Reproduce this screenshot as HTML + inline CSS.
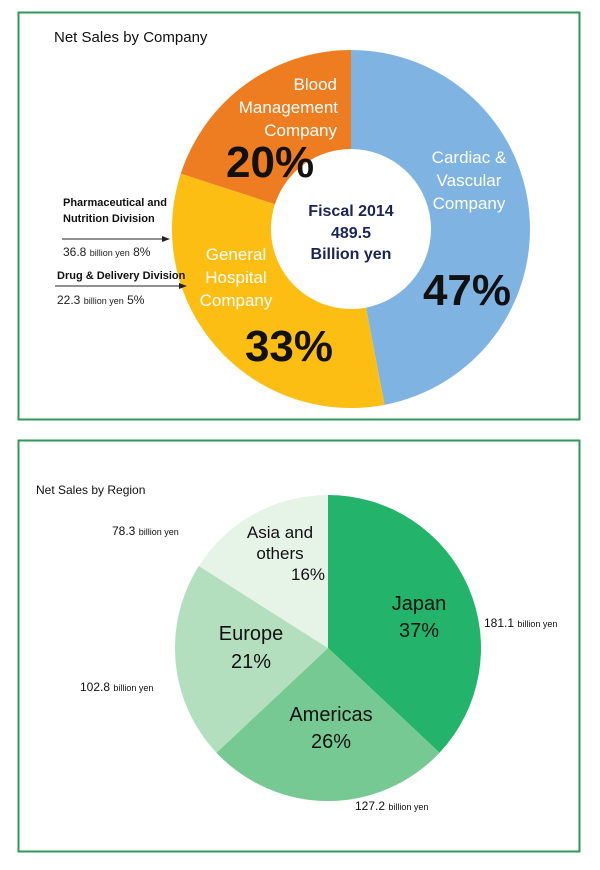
<!DOCTYPE html>
<html><head><meta charset="utf-8"><style>
body{margin:0;background:#fff;width:600px;height:870px;overflow:hidden;font-family:"Liberation Sans",sans-serif}
svg{display:block}
</style></head><body>
<svg width="600" height="870">
<rect x="18.5" y="12.5" width="561" height="407" fill="#fff" stroke="#2e9a56" stroke-width="2"/>
<rect x="18.5" y="440.5" width="561" height="411" fill="#fff" stroke="#2e9a56" stroke-width="2"/>
<text x="54" y="42" font-size="15" fill="#111">Net Sales by Company</text>
<text x="36" y="494" font-size="12" fill="#111">Net Sales by Region</text>
<g id="donut"></g>
<g id="pie"></g>
<text text-anchor="middle" font-weight="bold" fill="#1a2456" font-size="16"><tspan x="351" y="216">Fiscal 2014</tspan><tspan x="351" y="238">489.5</tspan><tspan x="351" y="259">Billion yen</tspan></text>
<g fill="#fff" font-size="17" text-anchor="end"><text x="337" y="90">Blood</text><text x="338" y="113">Management</text><text x="337" y="136">Company</text></g>
<text x="226" y="177" font-size="44" font-weight="bold" fill="#111">20%</text>
<g fill="#fff" font-size="17" text-anchor="middle"><text x="469" y="163">Cardiac &amp;</text><text x="469" y="186">Vascular</text><text x="469" y="209">Company</text></g>
<text x="467" y="305" font-size="44" font-weight="bold" fill="#111" text-anchor="middle">47%</text>
<g fill="#fff" font-size="17" text-anchor="middle"><text x="236" y="260">General</text><text x="236" y="283">Hospital</text><text x="236" y="306">Company</text></g>
<text x="289" y="361" font-size="44" font-weight="bold" fill="#111" text-anchor="middle">33%</text>
<g font-size="11" font-weight="bold" fill="#111"><text x="63" y="206">Pharmaceutical and</text><text x="63" y="222">Nutrition Division</text></g>
<line x1="62" y1="239" x2="166" y2="239" stroke="#222" stroke-width="1"/>
<polygon points="170,239 162,236 162,242" fill="#222"/>
<text x="63" y="256" font-size="12" fill="#222">36.8 <tspan font-size="9">billion yen</tspan> 8%</text>
<text x="57" y="279" font-size="11" font-weight="bold" fill="#111">Drug &amp; Delivery Division</text>
<line x1="55" y1="286" x2="183" y2="286" stroke="#222"/>
<polygon points="187,286 179,283 179,289" fill="#222"/>
<text x="57" y="304" font-size="12" fill="#222">22.3 <tspan font-size="9">billion yen</tspan> 5%</text>
<g font-size="20" fill="#111" text-anchor="middle">
<text x="419" y="610">Japan</text><text x="419" y="637">37%</text>
<text x="331" y="721">Americas</text><text x="331" y="748">26%</text>
<text x="251" y="640">Europe</text><text x="251" y="668">21%</text>
</g>
<g font-size="17" fill="#111" text-anchor="middle"><text x="280" y="538">Asia and</text><text x="280" y="559">others</text><text x="308" y="580">16%</text></g>
<g font-size="12" fill="#111">
<text x="112" y="535">78.3 <tspan font-size="9">billion yen</tspan></text>
<text x="484" y="627">181.1 <tspan font-size="9">billion yen</tspan></text>
<text x="80" y="691">102.8 <tspan font-size="9">billion yen</tspan></text>
<text x="355" y="810">127.2 <tspan font-size="9">billion yen</tspan></text>
</g>
</svg>
<script>
const companyNames=["cardiac","general","blood"];
const companyValues=[47,33,20];
const companyColors=["#7fb3e1","#fdbe14","#ee7d22"];
const regionNames=["japan","americas","europe","asia"];
const regionValues=[37,26,21,16];
const regionColors=["#24b36b","#77c993","#b4dfbf","#e6f3e7"];
const NS="http://www.w3.org/2000/svg";
function pt(cx,cy,r,f){const a=f*2*Math.PI;return [cx+r*Math.sin(a),cy-r*Math.cos(a)];}
function draw(g,names,vals,cols,cx,cy,R,r0){
 const tot=vals.reduce((a,b)=>a+b,0);let acc=0;
 vals.forEach((v,i)=>{
  const f0=acc/tot,f1=(acc+v)/tot;acc+=v;
  const big=(f1-f0)>0.5?1:0;
  const [x0,y0]=pt(cx,cy,R,f0),[x1,y1]=pt(cx,cy,R,f1);
  let d=`M${x0},${y0}A${R},${R} 0 ${big} 1 ${x1},${y1}`;
  if(r0>0){const [a1,b1]=pt(cx,cy,r0,f1),[a0,b0]=pt(cx,cy,r0,f0);d+=`L${a1},${b1}A${r0},${r0} 0 ${big} 0 ${a0},${b0}Z`;}
  else d+=`L${cx},${cy}Z`;
  const p=document.createElementNS(NS,"path");
  p.setAttribute("d",d);p.setAttribute("fill",cols[i]);
  
  
  g.appendChild(p);
 });
}
draw(document.getElementById("donut"),companyNames,companyValues,companyColors,351,229,179,80);
draw(document.getElementById("pie"),regionNames,regionValues,regionColors,328,648,153,0);
</script>
</body></html>
